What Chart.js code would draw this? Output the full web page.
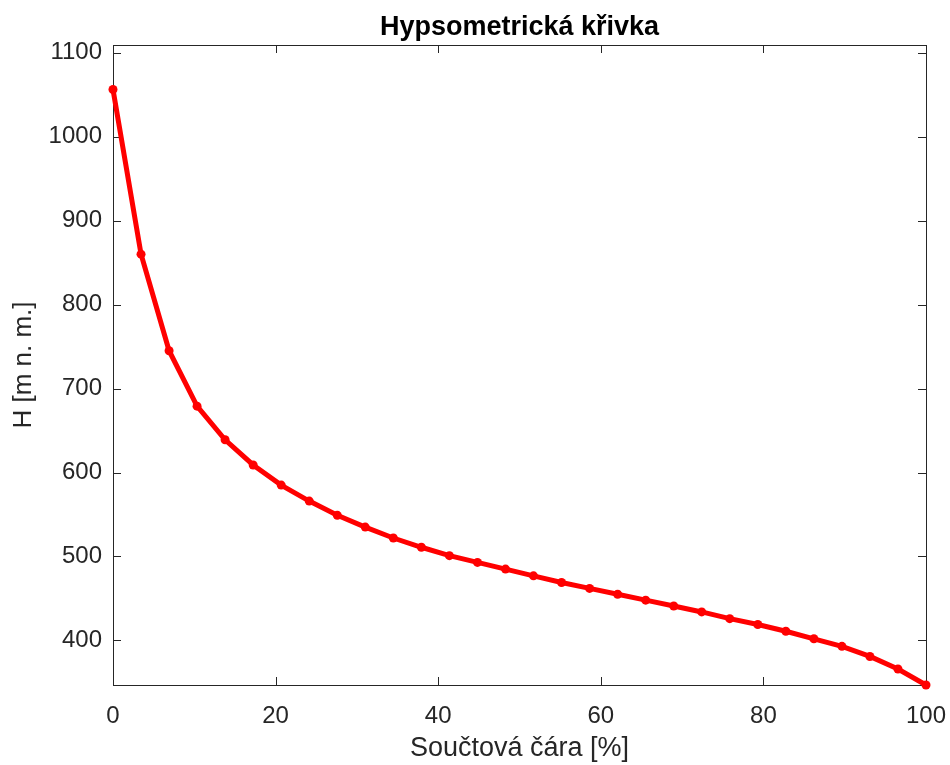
<!DOCTYPE html>
<html>
<head>
    <title>Hypsometrická křivka</title>
    <script src="https://cdn.jsdelivr.net/npm/chart.js"></script>
    <style>
        body {
            margin: 0;
            background: #ffffff;
        }
        .chart-container {
            width: 950px;
            height: 765px;
        }
    </style>
</head>
<body>
    <div class="chart-container">
        <canvas id="hypsoChart"></canvas>
    </div>

    <script>
        // Součtová čára [%] - cumulative area share
        const soucet = [0, 3.45, 6.9, 10.34, 13.79, 17.24, 20.69, 24.14, 27.59, 31.03,
                        34.48, 37.93, 41.38, 44.83, 48.28, 51.72, 55.17, 58.62, 62.07, 65.52,
                        68.97, 72.41, 75.86, 79.31, 82.76, 86.21, 89.66, 93.10, 96.55, 100];
        // H [m n. m.] - elevation
        const vyska = [1056, 860, 745, 679, 639, 609, 585, 566, 549, 535,
                       522, 511, 501, 493, 485, 477, 469, 462, 455, 448,
                       441, 434, 426, 419, 411, 402, 393, 381, 366, 347];
        const xTicks = [0, 20, 40, 60, 80, 100];
        const yTicks = [400, 500, 600, 700, 800, 900, 1000, 1100];

        const axisColor = '#262626';
        const fontFamily = '"Liberation Sans", Arial, sans-serif';

        // MATLAB-like box with inward tick marks on all four sides
        const boxPlugin = {
            id: 'matlabBox',
            beforeDatasetsDraw(chart) {
                const ctx = chart.ctx;
                const a = chart.chartArea;
                const xs = chart.scales.x;
                const ys = chart.scales.y;
                const len = 8;
                ctx.save();
                ctx.strokeStyle = axisColor;
                ctx.lineWidth = 1;
                ctx.beginPath();
                xs.ticks.forEach(t => {
                    const px = Math.round(xs.getPixelForValue(t.value)) + 0.5;
                    ctx.moveTo(px, a.bottom);
                    ctx.lineTo(px, a.bottom - len);
                    ctx.moveTo(px, a.top);
                    ctx.lineTo(px, a.top + len);
                });
                ys.ticks.forEach(t => {
                    const py = Math.round(ys.getPixelForValue(t.value)) + 0.5;
                    ctx.moveTo(a.left, py);
                    ctx.lineTo(a.left + len, py);
                    ctx.moveTo(a.right, py);
                    ctx.lineTo(a.right - len, py);
                });
                ctx.stroke();
                ctx.strokeRect(Math.round(a.left) + 0.5, Math.round(a.top) + 0.5,
                               Math.round(a.right - a.left), Math.round(a.bottom - a.top));
                ctx.restore();
            }
        };

        const ctx = document.getElementById('hypsoChart').getContext('2d');
        new Chart(ctx, {
            type: 'line',
            data: {
                datasets: [{
                    data: soucet.map((x, i) => ({ x: x, y: vyska[i] })),
                    borderColor: '#ff0000',
                    backgroundColor: '#ff0000',
                    borderWidth: 5,
                    pointRadius: 4.5,
                    pointBorderWidth: 0,
                    pointBackgroundColor: '#ff0000',
                    tension: 0,
                    clip: false
                }]
            },
            options: {
                responsive: true,
                maintainAspectRatio: false,
                animation: false,
                layout: {
                    padding: { left: 0, right: 24, top: 0, bottom: 0 }
                },
                plugins: {
                    legend: { display: false },
                    tooltip: { enabled: false },
                    title: {
                        display: true,
                        fullSize: false,
                        text: 'Hypsometrická křivka',
                        color: '#000000',
                        font: { family: fontFamily, size: 27, weight: 'bold' },
                        padding: { top: 11.5, bottom: 1.1 }
                    }
                },
                scales: {
                    x: {
                        type: 'linear',
                        min: 0,
                        max: 100,
                        afterBuildTicks: s => { s.ticks = xTicks.map(v => ({ value: v })); },
                        afterFit: s => { s.height = 80; s.paddingLeft = 0; s.paddingRight = 0; },
                        grid: { display: false, drawTicks: false },
                        border: { display: false },
                        ticks: {
                            color: axisColor,
                            padding: 16.5,
                            maxRotation: 0,
                            callback: v => String(v),
                            font: { family: fontFamily, size: 24 }
                        },
                        title: {
                            display: true,
                            text: 'Součtová čára [%]',
                            color: axisColor,
                            font: { family: fontFamily, size: 27 },
                            padding: { top: 0, bottom: 0 }
                        }
                    },
                    y: {
                        type: 'linear',
                        min: 347,
                        max: 1109,
                        afterBuildTicks: s => { s.ticks = yTicks.map(v => ({ value: v })); },
                        afterFit: s => { s.width = 113; s.paddingTop = 0; s.paddingBottom = 0; },
                        grid: { display: false, drawTicks: false },
                        border: { display: false },
                        ticks: {
                            color: axisColor,
                            padding: 11,
                            callback: v => String(v),
                            font: { family: fontFamily, size: 24 }
                        },
                        title: {
                            display: true,
                            text: 'H [m n. m.]',
                            color: axisColor,
                            font: { family: fontFamily, size: 26 },
                            padding: { top: 8.5, bottom: 0 }
                        }
                    }
                }
            },
            plugins: [boxPlugin]
        });
    </script>
</body>
</html>
